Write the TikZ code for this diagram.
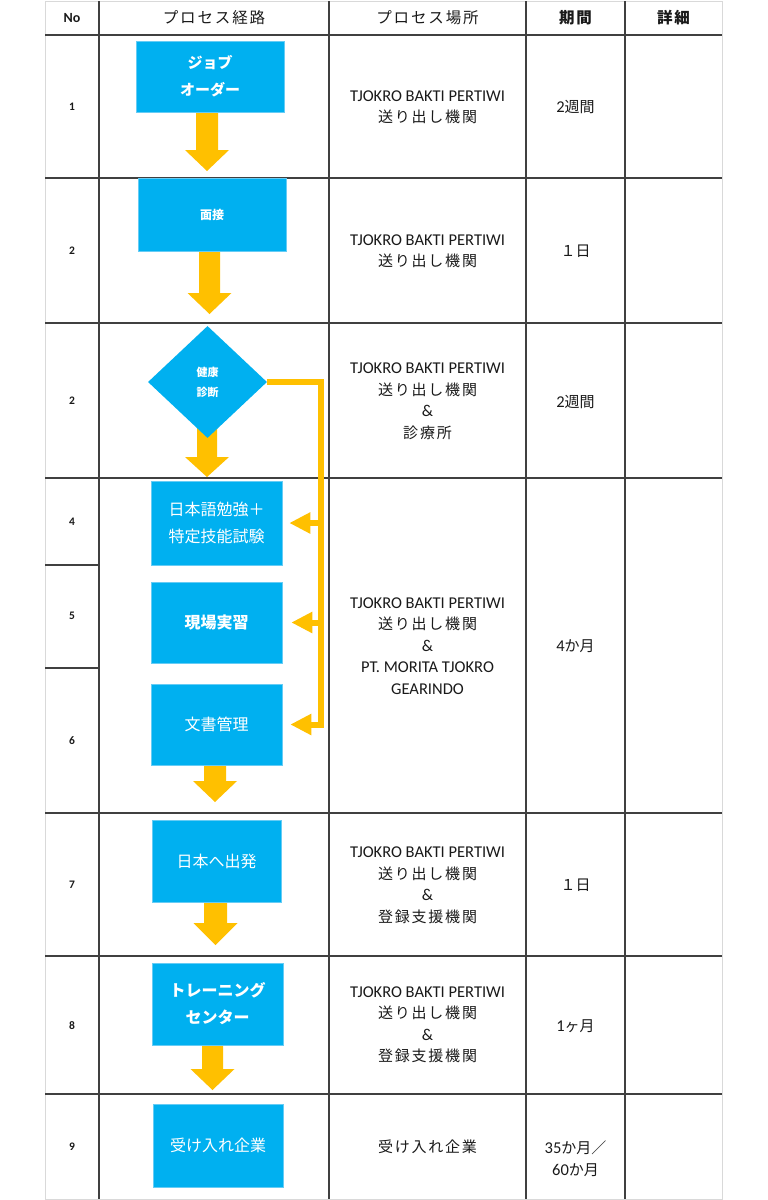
\documentclass[tikz,border=0pt]{standalone}
\usepackage{fontspec}
\setmainfont{Carlito}
\newfontfamily\jp{Noto Sans CJK JP}
\newfontfamily\jpw{Noto Sans CJK JP}[LetterSpace=12]
\usetikzlibrary{shapes.geometric,arrows.meta,calc}
\definecolor{boxblue}{HTML}{00B0F0}
\definecolor{boxedge}{HTML}{66CCF5}
\definecolor{orangec}{HTML}{FFC000}
\definecolor{gridc}{HTML}{404040}
\definecolor{outerc}{HTML}{D9D9D9}
\definecolor{txtc}{HTML}{1A1A1A}
\newcommand\blockdown[5]{% cx, top, headtop, tip, shaft half width
  \fill[orangec] ({#1-#5},#2) -- ({#1+#5},#2) -- ({#1+#5},#3) -- ({#1+22},#3) -- (#1,#4) -- ({#1-22},#3) -- ({#1-#5},#3) -- cycle;}
\begin{document}
\begin{tikzpicture}[x=1pt,y=-1pt,
  gridline/.style={draw=gridc,line width=1.1pt},
  outerline/.style={draw=outerc,line width=1pt},
  cellt/.style={align=center,text=txtc,inner sep=0pt,font=\fontsize{16.5}{21.5}\selectfont},
  numt/.style={text=txtc,inner sep=0pt,font=\fontsize{11.5}{13}\selectfont\bfseries},
  headt/.style={text=txtc,inner sep=0pt,font=\fontsize{15.5}{18}\selectfont},
  bluebox/.style={fill=boxblue,draw=boxedge,line width=0.6pt,text=white,align=center,inner sep=0pt,font=\fontsize{16}{27}\selectfont\jp},
  conn/.style={draw=orangec,line width=6pt,line join=miter,-{Triangle[width=20pt,length=21pt]}}]
\useasboundingbox (0,0) rectangle (768,1200);
\fill[white] (0,0) rectangle (768,1200);
% table
\draw[outerline] (45,1) rectangle (722,1199);
\foreach \yy in {35,178,323,478,813,956,1094} \draw[gridline] (45,\yy) -- (722,\yy);
\draw[gridline] (45,565) -- (99,565);
\draw[gridline] (45,668) -- (99,668);
\foreach \xx in {99,329,526,625} \draw[gridline] (\xx,1) -- (\xx,1199);
% header
\node[headt,font=\fontsize{14}{17}\selectfont\bfseries] (hno) at (72,18) {No};
\node[headt] (hproc) at (214,18) {\jpw プロセス経路};
\node[headt] (hplace) at (427.5,18) {\jpw プロセス場所};
\node[headt] (hperiod) at (575.5,18) {\jpw\bfseries 期間};
\node[headt] (hdetail) at (673.5,18) {\jpw\bfseries 詳細};
% numbers
\node[numt] (n1) at (72,107) {1};
\node[numt] (n2) at (72,251) {2};
\node[numt] (n3) at (72,401) {2};
\node[numt] (n4) at (72,522) {4};
\node[numt] (n5) at (72,616) {5};
\node[numt] (n6) at (72,741) {6};
\node[numt] (n7) at (72,885) {7};
\node[numt] (n8) at (72,1026) {8};
\node[numt] (n9) at (72,1147) {9};
% locations
\node[cellt] (l1) at (427.5,107.5) {TJOKRO BAKTI PERTIWI\\{\jpw\fontsize{15}{21.5}\selectfont 送り出し機関}};
\node[cellt] (l2) at (427.5,251.5) {TJOKRO BAKTI PERTIWI\\{\jpw\fontsize{15}{21.5}\selectfont 送り出し機関}};
\node[cellt] (l3) at (427.5,401.5) {TJOKRO BAKTI PERTIWI\\{\jpw\fontsize{15}{21.5}\selectfont 送り出し機関}\\\&\\{\jpw\fontsize{15}{21.5}\selectfont 診療所}};
\node[cellt] (l4) at (427.5,646) {TJOKRO BAKTI PERTIWI\\{\jpw\fontsize{15}{21.5}\selectfont 送り出し機関}\\\&\\PT. MORITA TJOKRO\\GEARINDO};
\node[cellt] (l7) at (427.5,885.5) {TJOKRO BAKTI PERTIWI\\{\jpw\fontsize{15}{21.5}\selectfont 送り出し機関}\\\&\\{\jpw\fontsize{15}{21.5}\selectfont 登録支援機関}};
\node[cellt] (l8) at (427.5,1025) {TJOKRO BAKTI PERTIWI\\{\jpw\fontsize{15}{21.5}\selectfont 送り出し機関}\\\&\\{\jpw\fontsize{15}{21.5}\selectfont 登録支援機関}};
\node[cellt] (l9) at (427.5,1147) {\jpw\fontsize{15}{21.5}\selectfont 受け入れ企業};
% periods
\node[cellt] (p1) at (575.5,107) {2{\jp\fontsize{15}{21.5}\selectfont 週間}};
\node[cellt] (p2) at (575.5,251) {{\jp\fontsize{15}{21.5}\selectfont １日}};
\node[cellt] (p3) at (575.5,402) {2{\jp\fontsize{15}{21.5}\selectfont 週間}};
\node[cellt] (p4) at (575.5,646) {4{\jp\fontsize{15}{21.5}\selectfont か月}};
\node[cellt] (p7) at (575.5,885) {{\jp\fontsize{15}{21.5}\selectfont １日}};
\node[cellt] (p8) at (575.5,1026) {1{\jp\fontsize{15}{21.5}\selectfont ヶ月}};
\node[cellt] (p9) at (575.5,1158.5) {35{\jp\fontsize{15}{21.5}\selectfont か月／}\\60{\jp\fontsize{15}{21.5}\selectfont か月}};
% block arrows (drawn below the boxes)
\blockdown{207}{100}{150}{171}{11}
\blockdown{209.5}{240}{293}{314}{10.5}
\blockdown{207}{420}{457}{477}{10}
\blockdown{215}{755}{781}{802}{11}
\blockdown{215.5}{890}{923}{945}{11.5}
\blockdown{212.5}{1035}{1069}{1090}{10.5}
% flow boxes
\node[bluebox,minimum width=148pt,minimum height=71pt,font=\fontsize{15}{27}\selectfont\jp\bfseries] (b1) at (210,76.5) {ジョブ\\オーダー};
\node[bluebox,minimum width=148pt,minimum height=73pt,font=\fontsize{12}{16}\selectfont\jp\bfseries] (b2) at (212,214.5) {面接};
\node[diamond,fill=boxblue,text=white,align=center,inner sep=0pt,minimum width=119pt,minimum height=112pt,font=\fontsize{11}{20}\selectfont\jp\bfseries] (d3) at (207.5,382) {健康\\診断};
\node[bluebox,minimum width=131pt,minimum height=84pt] (b4) at (216.5,523) {日本語勉強＋\\特定技能試験};
\node[bluebox,minimum width=131pt,minimum height=81pt,font=\fontsize{16}{27}\selectfont\jp\bfseries] (b5) at (216.5,622.5) {現場実習};
\node[bluebox,minimum width=131pt,minimum height=81pt] (b6) at (216.5,724.5) {文書管理};
\node[bluebox,minimum width=129pt,minimum height=82pt] (b7) at (216.5,861) {日本へ出発};
\node[bluebox,minimum width=131pt,minimum height=82pt,font=\fontsize{16}{27}\selectfont\jp\bfseries] (b8) at (217.5,1004) {トレーニング\\センター};
\node[bluebox,minimum width=130pt,minimum height=83pt] (b9) at (218,1145.5) {受け入れ企業};
% side connector
\coordinate (trunk) at (321,0);
\draw[conn] (d3.east) -- (d3.east -| trunk) -- (b6.east -| trunk) -- ([xshift=8pt]b6.east);
\draw[conn] (b4.east -| trunk) -- ([xshift=7pt]b4.east);
\draw[conn] (b5.east -| trunk) -- ([xshift=9pt]b5.east);
\end{tikzpicture}
\end{document}
